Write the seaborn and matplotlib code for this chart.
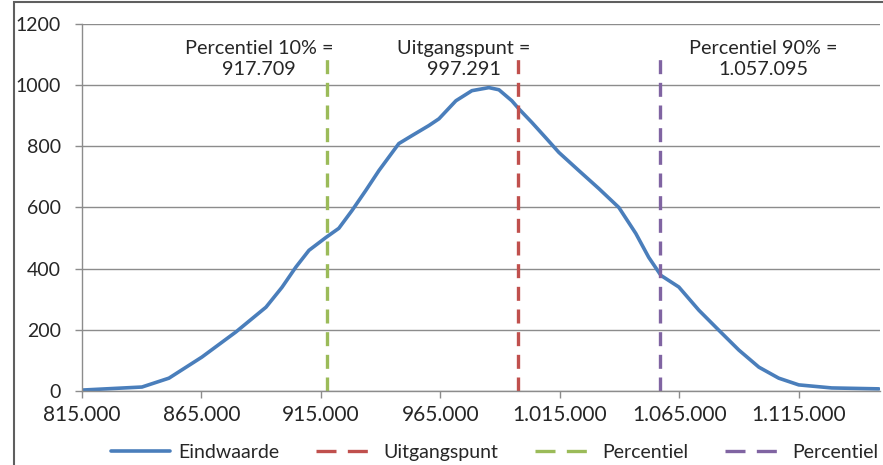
import matplotlib
matplotlib.use("Agg")
import matplotlib.pyplot as plt
import matplotlib.ticker as mticker
from matplotlib.patches import Rectangle
from matplotlib.lines import Line2D
import seaborn as sns
import pandas as pd

# ---- data ----
x_vals = [815000, 840100, 851400, 865200, 879400, 892000, 898700, 904500, 910000,
          917100, 922500, 928000, 933800, 939300, 947600, 953100, 960200, 964400,
          971500, 978200, 985300, 989500, 994900, 997800, 1003300, 1009100,
          1014600, 1022900, 1031300, 1039700, 1046800, 1052200, 1057300, 1064800,
          1073200, 1081500, 1089900, 1098300, 1106600, 1115000, 1128800, 1148500]
y_vals = [3, 13, 42, 111, 193, 274, 339, 405, 460, 502, 532, 590, 656, 721, 809,
          835, 868, 890, 949, 982, 992, 985, 949, 923, 878, 828, 780, 721, 662,
          600, 515, 437, 378, 340, 264, 199, 134, 78, 42, 20, 10, 7]
series_name = "Eindwaarde"
ref_names = ["Uitgangspunt", "Percentiel", "Percentiel"]
ref_values = [997291, 917709, 1057095]
ref_colors = ["#c0504d", "#9bbb59", "#8064a2"]
ref_labels = ["Uitgangspunt =\n997.291", "Percentiel 10% =\n917.709",
              "Percentiel 90% =\n1.057.095"]
label_x = [974800, 889000, 1100000]
ref_top = 1100
y_ticks = [0, 200, 400, 600, 800, 1000, 1200]
x_ticks = [815000, 865000, 915000, 965000, 1015000, 1065000, 1115000]

sns.set_theme(style="white")
plt.rcParams["font.family"] = ["Lato", "DejaVu Sans"]

df = pd.DataFrame({"x": x_vals, "y": y_vals})

fig = plt.figure(figsize=(8.83, 4.65), dpi=100)
ax = fig.add_axes([82 / 883, 1 - 391 / 465, (880 - 82) / 883, (391 - 24) / 465])

txt_color = "#262626"
grid_color = "#8c8c8c"
line_color = "#4a7ebb"

ax.set_axisbelow(True)
ax.yaxis.grid(True, color=grid_color, linewidth=1.0)

sns.lineplot(data=df, x="x", y="y", ax=ax, color=line_color, linewidth=2.6,
             label=series_name, legend=False)
ax.lines[0].set_solid_joinstyle("round")
ax.lines[0].set_solid_capstyle("round")

handles = [Line2D([], [], color=line_color, linewidth=2.6)]
for v, c, n in zip(ref_values, ref_colors, ref_names):
    ax.plot([v, v], [0, ref_top], color=c, linewidth=2.4,
            dashes=(4.2, 2.6), label=n)
    handles.append(Line2D([], [], color=c, linewidth=2.4, dashes=(6.0, 3.4)))

for xv, t in zip(label_x, ref_labels):
    ax.text(xv, 1086, t, ha="center", va="center", fontsize=14.3,
            color=txt_color, linespacing=1.3)

ax.set_xlim(815000, 1149000)
ax.set_ylim(0, 1200)
ax.set_xticks(x_ticks)
ax.set_yticks(y_ticks)
ax.xaxis.set_major_formatter(mticker.FuncFormatter(
    lambda v, p: f"{int(round(v)):,}".replace(",", ".")))
ax.set_xlabel("")
ax.set_ylabel("")

for s in ["top", "right"]:
    ax.spines[s].set_visible(False)
for s in ["left", "bottom"]:
    ax.spines[s].set_color(grid_color)
    ax.spines[s].set_linewidth(1.0)

ax.tick_params(axis="both", which="both", direction="out", length=5,
               width=1.0, color=grid_color, labelcolor=txt_color)
ax.tick_params(axis="y", pad=10, left=True, labelsize=14)
ax.tick_params(axis="x", pad=5, bottom=True, labelsize=15)

fig.legend(handles=handles,
           labels=[series_name] + ref_names,
           loc="center", bbox_to_anchor=(495 / 883, 1 - 452 / 465),
           ncol=4, frameon=False, fontsize=14, handlelength=3.0,
           columnspacing=1.9, handletextpad=0.45, labelcolor=txt_color)

fig.patches.append(Rectangle((14 / 883, -0.1), 1.2, (1 - 2 / 465) + 0.1,
                             transform=fig.transFigure, fill=False,
                             edgecolor="#5f5f5f", linewidth=1.5))

fig.savefig("out.png", dpi=100)
